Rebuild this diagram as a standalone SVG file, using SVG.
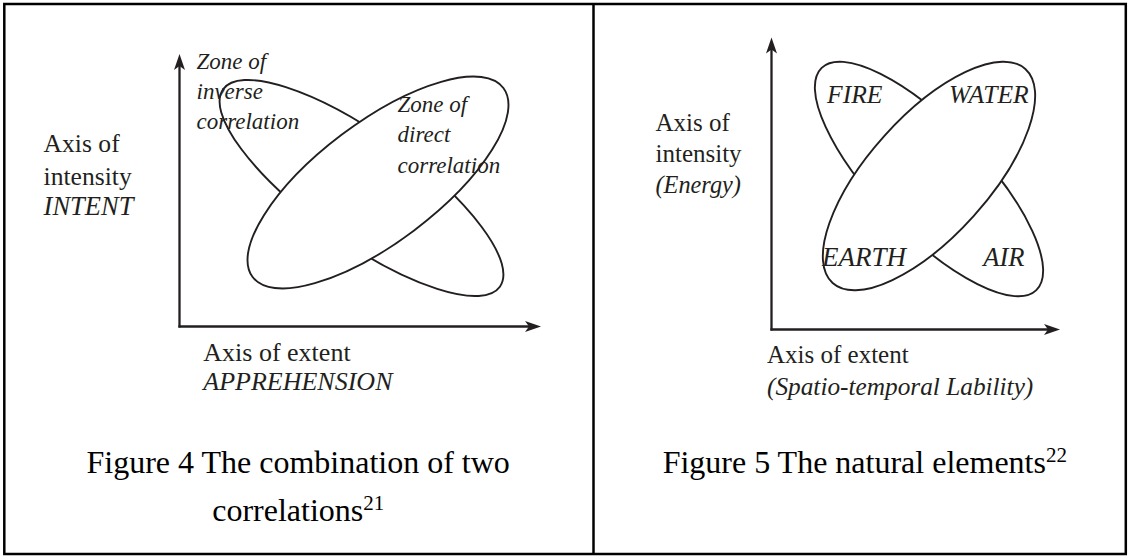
<svg xmlns="http://www.w3.org/2000/svg" width="1130" height="558" viewBox="0 0 1130 558">
<style>
.frame{fill:none;stroke:#000;stroke-width:2.5}
.axis{fill:none;stroke:#231f20;stroke-width:2.3}
.ell{fill:none;stroke:#231f20;stroke-width:1.9}
.ell-top{fill:#fff;stroke:#231f20;stroke-width:1.9}
.lab{font-family:"Liberation Serif","Times New Roman",serif;fill:#231f20}
.it{font-style:italic}
.cap{font-family:"Liberation Serif","Times New Roman",serif;fill:#000;font-size:32px}
</style>
<defs>
<marker id="arr" markerUnits="userSpaceOnUse" markerWidth="20" markerHeight="14" viewBox="-17 -7 18 14" refX="-10" refY="0" orient="auto">
<path d="M0,0 L-16,-5.5 L-12,0 L-16,5.5 Z" fill="#231f20"/>
</marker>
</defs>
<g id="frame">
<rect class="frame" x="4.3" y="4" width="1121.5" height="550"/>
<line class="frame" x1="593.5" y1="4" x2="593.5" y2="554"/>
</g>
<g id="connectors">
<line class="axis" x1="179.5" y1="327.6" x2="179.5" y2="64" marker-end="url(#arr)"/>
<line class="axis" x1="178.4" y1="326.5" x2="531" y2="326.5" marker-end="url(#arr)"/>
<line class="axis" x1="771.5" y1="330.6" x2="771.5" y2="47.5" marker-end="url(#arr)"/>
<line class="axis" x1="770.4" y1="329.5" x2="1050" y2="329.5" marker-end="url(#arr)"/>
</g>
<g id="fig4-inverse-zone">
<ellipse class="ell" cx="361.5" cy="188" rx="170" ry="54" transform="rotate(35.5 361.5 188)"/>
</g>
<g id="fig4-direct-zone">
<ellipse class="ell-top" cx="378" cy="182.5" rx="157" ry="60" transform="rotate(-37 378 182.5)"/>
<text class="lab it" font-size="23"><tspan x="397.5" y="112">Zone of</tspan><tspan x="397.5" y="142">direct</tspan><tspan x="397.5" y="172.5">correlation</tspan></text>
</g>
<g id="fig4-inverse-label">
<text class="lab it" font-size="23"><tspan x="196.5" y="68.5">Zone of</tspan><tspan x="196.5" y="98.5">inverse</tspan><tspan x="196.5" y="129">correlation</tspan></text>
</g>
<g id="fig4-y-label">
<text class="lab" font-size="25.6"><tspan x="43.6" y="151.7">Axis of</tspan><tspan x="43.6" y="184.5">intensity</tspan><tspan x="43.6" y="215" class="it" font-size="26.5">INTENT</tspan></text>
</g>
<g id="fig4-x-label">
<text class="lab" font-size="26"><tspan x="203.3" y="360.5">Axis of extent</tspan><tspan x="203.3" y="390" class="it">APPREHENSION</tspan></text>
</g>
<g id="fig4-caption">
<text class="cap" text-anchor="middle" x="298.2" y="473.3">Figure 4 The combination of two</text>
<text class="cap" text-anchor="middle" x="298.2" y="520.5">correlations<tspan font-size="21" dy="-11">21</tspan></text>
</g>
<g id="fig5-fire-air">
<ellipse class="ell" cx="929" cy="179" rx="154.5" ry="54" transform="rotate(46 929 179)"/>
</g>
<g id="fig5-water-earth">
<ellipse class="ell-top" cx="929" cy="176" rx="144" ry="60" transform="rotate(-48 929 176)"/>
</g>
<g id="fig5-labels">
<text class="lab it" font-size="25.6" x="827" y="103">FIRE</text>
<text class="lab it" font-size="26.5" x="983.3" y="266">AIR</text>
<text class="lab it" font-size="25.6" x="949" y="103.3">WATER</text>
<text class="lab it" font-size="27" x="822" y="265.5">EARTH</text>
</g>
<g id="fig5-y-label">
<text class="lab" font-size="25"><tspan x="655.5" y="131">Axis of</tspan><tspan x="655.5" y="162">intensity</tspan><tspan x="655.5" y="193" class="it" font-size="24.3">(Energy)</tspan></text>
</g>
<g id="fig5-x-label">
<text class="lab" font-size="25"><tspan x="767" y="363">Axis of extent</tspan><tspan x="767" y="395" class="it" font-size="25.3">(Spatio-temporal Lability)</tspan></text>
</g>
<g id="fig5-caption">
<text class="cap" text-anchor="middle" x="864.8" y="473.3">Figure 5 The natural elements<tspan font-size="21" dy="-11">22</tspan></text>
</g>
</svg>
